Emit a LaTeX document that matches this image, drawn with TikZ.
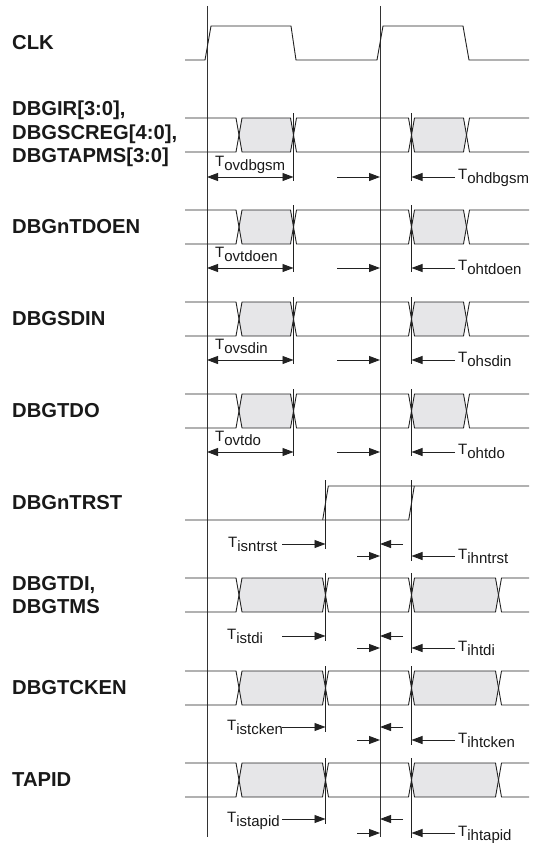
\documentclass[tikz,border=0pt]{standalone}
\usepackage{fontspec}
\setmainfont{Liberation Sans}
\usetikzlibrary{arrows.meta}
\definecolor{sig}{HTML}{222222}
\definecolor{busfill}{HTML}{E6E6E8}
\newcommand\tsub[2]{#1\raisebox{-4.5pt}{#2}}
% bus row: #1 top y, #2..#5 crossing centres
\newcommand\busrow[5]{%
  \fill[busfill] (#2,{#1+17}) -- ({#2+3},#1) -- ({#3-3},#1) -- (#3,{#1+17}) -- ({#3-3},{#1+34}) -- ({#2+3},{#1+34}) -- cycle;
  \fill[busfill] (#4,{#1+17}) -- ({#4+3},#1) -- ({#5-3},#1) -- (#5,{#1+17}) -- ({#5-3},{#1+34}) -- ({#4+3},{#1+34}) -- cycle;
  \draw[sigline] (185,#1) -- ({#2-3},#1) -- ({#2+3},{#1+34}) -- ({#3-3},{#1+34}) -- ({#3+3},#1) -- ({#4-3},#1) -- ({#4+3},{#1+34}) -- ({#5-3},{#1+34}) -- ({#5+3},#1) -- (529,#1);
  \draw[sigline] (185,{#1+34}) -- ({#2-3},{#1+34}) -- ({#2+3},#1) -- ({#3-3},#1) -- ({#3+3},{#1+34}) -- ({#4-3},{#1+34}) -- ({#4+3},#1) -- ({#5-3},#1) -- ({#5+3},{#1+34}) -- (529,{#1+34});
}
\begin{document}
\begin{tikzpicture}[x=1pt,y=-1pt,
  sigline/.style={draw=sig,line width=0.9pt,line join=miter},
  refline/.style={draw=black!80,line width=0.8pt},
  tickline/.style={draw=sig,line width=0.7pt},
  tip/.tip={Triangle[length=11pt,width=8pt]},
  tarrow/.style={draw=sig,line width=0.9pt,-tip},
  dblarrow/.style={draw=sig,line width=0.9pt,tip-tip},
  siglabel/.style={font=\fontsize{20.2}{23.5}\selectfont\bfseries,anchor=west,align=left,inner sep=0pt,text=black!90},
  tlabel/.style={font=\fontsize{15}{15}\selectfont,anchor=base west,inner sep=0pt,text=black!90},
]
\useasboundingbox (0,0) rectangle (535,843);

% reference lines
\coordinate (Atop) at (207,6); \coordinate (Abot) at (207,837);
\coordinate (Btop) at (380,6); \coordinate (Bbot) at (380,837);
\draw[refline] (Atop) -- (Abot);
\draw[refline] (Btop) -- (Bbot);

% signal labels
\node[siglabel] (lclk) at (12,43) {CLK};
\node[siglabel] (lir) at (12,134) {DBGIR[3:0],\\DBGSCREG[4:0],\\DBGTAPMS[3:0]};
\node[siglabel] (ltdoen) at (12,227) {DBGnTDOEN};
\node[siglabel] (lsdin) at (12,319) {DBGSDIN};
\node[siglabel] (ltdo) at (12,411) {DBGTDO};
\node[siglabel] (ltrst) at (12,503) {DBGnTRST};
\node[siglabel] (ltdi) at (12,595) {DBGTDI,\\DBGTMS};
\node[siglabel] (ltcken) at (12,688) {DBGTCKEN};
\node[siglabel] (ltapid) at (12,780) {TAPID};

% clock
\draw[sigline] (185,60) -- (205,60) -- (211,26) -- (291,26) -- (296,60) -- (377,60) -- (383,26) -- (463,26) -- (469,60) -- (529,60);

% type-1 rows: top y / arrow y
\foreach \t/\a/\sa/\sb in {118/177/ovdbgsm/ohdbgsm, 210/268/ovtdoen/ohtdoen, 302/360/ovsdin/ohsdin, 394/452/ovtdo/ohtdo}{
  \busrow{\t}{239}{293.5}{411.5}{466.5}
  \draw[tickline] (293.5,{\t-5}) -- (293.5,{\a+4});
  \draw[tickline] (411.5,{\t-5}) -- (411.5,{\a+4});
  \coordinate (d1) at (207,\a); \coordinate (d2) at (293.5,\a);
  \coordinate (r1) at (337,\a); \coordinate (r2) at (380,\a);
  \coordinate (h1) at (455,\a); \coordinate (h2) at (411.5,\a);
  \draw[dblarrow] (d1) -- (d2);
  \draw[tarrow] (r1) -- (r2);
  \draw[tarrow] (h1) -- (h2);
  \node[tlabel] at (215,{\a-11}) {\tsub{T}{\sa}};
  \node[tlabel] at (458,{\a+2}) {\tsub{T}{\sb}};
}

% DBGnTRST
\draw[sigline] (185,520) -- (408.7,520) -- (414.3,486);
\draw[sigline] (322.7,520) -- (328.3,486) -- (529,486);
\draw[tickline] (325.5,480) -- (325.5,549);
\draw[tickline] (411.5,480) -- (411.5,561);
\draw[tarrow] (282,544) -- (325.5,544);
\draw[tarrow] (403,544) -- (380,544);
\draw[tarrow] (357,556) -- (380,556);
\draw[tarrow] (455,556) -- (411.5,556);
\node[tlabel] at (228,547) {\tsub{T}{isntrst}};
\node[tlabel] at (458,559) {\tsub{T}{ihntrst}};

% type-2 rows
\foreach \t/\a/\b/\sa/\sb in {578/636/648/istdi/ihtdi, 671/727/740/istcken/ihtcken, 763/819/833/istapid/ihtapid}{
  \busrow{\t}{239}{325.5}{411.5}{498.5}
  \draw[tickline] (325.5,{\t-5}) -- (325.5,{\a+5});
  \draw[tickline] (411.5,{\t-5}) -- (411.5,{\b+5});
  \draw[tarrow] (282,\a) -- (325.5,\a);
  \draw[tarrow] (403,\a) -- (380,\a);
  \draw[tarrow] (357,\b) -- (380,\b);
  \draw[tarrow] (455,\b) -- (411.5,\b);
  \node[tlabel] at (227,{\a+3}) {\tsub{T}{\sa}};
  \node[tlabel] at (458,{\b+3}) {\tsub{T}{\sb}};
}
\end{tikzpicture}
\end{document}
